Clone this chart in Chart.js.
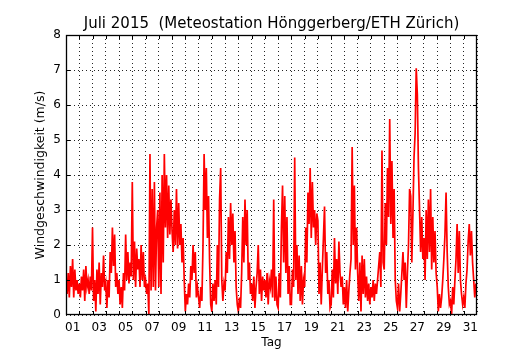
<!DOCTYPE html>
<html>
<head>
<meta charset="utf-8">
<script src="https://cdn.jsdelivr.net/npm/chart.js@4"></script>
<style>
  body { margin: 0; background: #fff; }
  canvas { display: block; }
</style>
</head>
<body>
<canvas id="windChart" width="530" height="350"></canvas>
<script>
// Windgeschwindigkeit Juli 2015, 2-stuendliche Werte (12 pro Tag)
var samplesPerDay = 12;
var dayLabels = ['01','02','03','04','05','06','07','08','09','10','11','12','13','14','15','16',
                 '17','18','19','20','21','22','23','24','25','26','27','28','29','30','31'];
var windSpeed = [
    1.1, 0.6, 1.2, 0.5, 1.4, 0.8, 1.6, 0.5, 1.3, 0.7, 1.0, 0.6,   // 01
    0.9, 0.5, 1.1, 0.7, 1.3, 0.4, 1.4, 0.8, 1.0, 0.6, 1.1, 0.7,   // 02
    2.5, 0.4, 1.0, 0.1, 1.3, 0.6, 1.5, 0.3, 1.2, 0.8, 1.7, 0.7,   // 03
    0.9, 0.2, 1.0, 0.5, 1.8, 1.2, 2.5, 1.4, 2.3, 0.8, 1.2, 0.6,   // 04
    1.0, 0.3, 0.8, 0.2, 1.2, 0.7, 2.3, 1.0, 1.8, 0.9, 1.5, 1.1,   // 05
    3.8, 1.0, 2.1, 0.8, 1.9, 1.3, 1.6, 0.8, 2.0, 1.0, 1.8, 0.8,   // 06
    1.0, 0.6, 0.9, 0.0, 4.6, 0.7, 3.6, 0.8, 3.8, 0.7, 2.5, 3.0,   // 07
    0.8, 3.5, 0.6, 4.0, 1.5, 4.6, 2.5, 4.0, 2.2, 3.7, 2.3, 3.3,   // 08
    2.4, 1.8, 3.0, 2.0, 3.6, 1.9, 3.2, 2.0, 2.6, 1.5, 2.2, 1.0,   // 09
    0.1, 0.6, 0.3, 0.9, 0.5, 1.4, 1.0, 2.0, 1.2, 1.8, 0.5, 0.8,   // 10
    0.5, 0.2, 0.8, 0.4, 2.0, 4.6, 3.0, 4.2, 2.2, 3.4, 1.5, 0.3,   // 11
    0.1, 0.9, 0.4, 1.0, 0.3, 2.0, 0.8, 3.3, 4.2, 1.0, 0.4, 0.9,   // 12
    0.7, 1.8, 1.2, 2.8, 1.6, 3.2, 2.0, 2.9, 1.5, 2.4, 0.8, 0.3,   // 13
    0.1, 0.5, 0.2, 1.2, 2.8, 1.5, 3.3, 2.0, 3.0, 1.0, 1.5, 0.6,   // 14
    0.9, 0.4, 1.1, 0.2, 0.8, 1.2, 2.0, 0.6, 1.3, 0.4, 1.1, 0.7,   // 15
    1.0, 0.5, 1.2, 0.3, 1.0, 0.8, 1.3, 0.5, 3.3, 0.4, 1.1, 0.3,   // 16
    0.2, 1.2, 0.5, 2.5, 3.7, 1.5, 3.4, 1.2, 2.8, 0.6, 1.4, 0.3,   // 17
    0.3, 1.3, 0.8, 4.5, 1.0, 2.0, 0.6, 1.7, 0.4, 1.4, 0.3, 1.0,   // 18
    0.8, 2.5, 1.5, 3.5, 2.6, 4.2, 2.2, 3.8, 2.5, 3.0, 2.0, 2.9,   // 19
    2.7, 0.6, 1.5, 0.3, 1.3, 2.2, 3.1, 1.2, 1.8, 0.6, 1.0, 0.2,   // 20
    0.3, 1.3, 0.5, 2.2, 0.9, 1.6, 0.6, 2.1, 1.2, 0.8, 1.1, 0.3,   // 21
    0.8, 0.2, 1.0, 0.1, 0.7, 1.2, 1.6, 4.8, 2.0, 3.7, 1.3, 2.5,   // 22
    1.2, 0.4, 1.5, 0.1, 1.7, 0.6, 1.6, 0.5, 1.1, 0.4, 0.9, 0.3,   // 23
    0.8, 0.5, 1.0, 0.4, 0.9, 0.6, 1.0, 1.4, 1.8, 0.8, 4.7, 1.5,   // 24
    1.3, 3.2, 2.0, 4.2, 2.8, 5.6, 2.6, 4.4, 2.2, 3.6, 1.0, 0.4,   // 25
    0.2, 0.9, 0.1, 0.6, 1.2, 1.8, 1.0, 1.5, 0.2, 1.2, 2.0, 3.6,   // 26
    3.4, 1.5, 2.9, 4.5, 5.2, 7.05, 6.3, 4.2, 3.0, 1.8, 2.8, 1.6,  // 27
    2.2, 1.0, 3.0, 1.6, 3.3, 1.8, 3.6, 1.3, 2.8, 1.5, 2.4, 1.2,   // 28
    0.8, 0.1, 0.6, 0.2, 0.5, 1.0, 1.6, 2.3, 3.5, 1.8, 0.8, 0.3,   // 29
    0.4, 0.0, 0.8, 0.3, 1.0, 1.6, 2.6, 1.2, 2.4, 1.0, 0.6, 0.3,   // 30
    0.5, 0.2, 0.9, 1.3, 2.1, 2.6, 1.7, 2.4, 1.5, 1.0, 0.5, 0.9    // 31
];

var points = windSpeed.map(function (v, i) {
    return { x: i / samplesPerDay, y: v };
});

var font = { family: 'DejaVu Sans', size: 12 };

// Rahmen und kleine Ticks nach innen
var framePlugin = {
    id: 'frame',
    afterDraw: function (chart) {
        var c = chart.ctx, a = chart.chartArea;
        var xs = chart.scales.x, ys = chart.scales.y;
        c.save();
        c.strokeStyle = '#000';
        c.lineWidth = 1;
        c.beginPath();
        for (var d = 1; d < 31; d++) {
            var px = Math.round(xs.getPixelForValue(d)) + 0.5;
            c.moveTo(px, a.bottom); c.lineTo(px, a.bottom - 4);
            c.moveTo(px, a.top); c.lineTo(px, a.top + 4);
        }
        for (var v = 1; v < 8; v++) {
            var py = Math.round(ys.getPixelForValue(v)) + 0.5;
            c.moveTo(a.left, py); c.lineTo(a.left + 4, py);
            c.moveTo(a.right, py); c.lineTo(a.right - 4, py);
        }
        c.stroke();
        c.lineWidth = 1.3;
        c.strokeRect(a.left + 0.5, a.top + 0.5, a.right - a.left - 1, a.bottom - a.top - 1);
        c.restore();
    }
};

var ctx = document.getElementById('windChart').getContext('2d');
var windChart = new Chart(ctx, {
    type: 'line',
    data: {
        datasets: [{
            label: 'Windgeschwindigkeit',
            data: points,
            borderColor: '#ff0000',
            borderWidth: 1.7,
            pointRadius: 0,
            tension: 0
        }]
    },
    options: {
        responsive: false,
        animation: false,
        layout: { padding: { left: 0, right: 53, top: 0, bottom: 0 } },
        plugins: {
            legend: { display: false },
            tooltip: { enabled: false },
            title: {
                display: true,
                text: 'Juli 2015  (Meteostation Hönggerberg/ETH Zürich)',
                color: '#000',
                fullSize: false,
                font: { family: 'DejaVu Sans', size: 15, weight: 'normal' },
                padding: { top: 15, bottom: 2 }
            }
        },
        scales: {
            x: {
                type: 'linear',
                min: 0,
                max: 31,
                afterFit: function (s) { s.height = 35; },
                border: { display: false, dash: [1, 3] },
                grid: {
                    drawTicks: false,
                    lineWidth: 1,
                    color: function (c) {
                        return c.tick && Number.isInteger(c.tick.value) ? 'rgba(0,0,0,0.85)' : 'rgba(0,0,0,0)';
                    }
                },
                ticks: {
                    stepSize: 0.5,
                    autoSkip: false,
                    maxRotation: 0,
                    padding: 6,
                    color: '#000',
                    font: font,
                    callback: function (value) {
                        var h = Math.round(value * 2);
                        if (h % 2 === 1 && Math.floor(value) % 2 === 0) {
                            return dayLabels[Math.floor(value)];
                        }
                        return '';
                    }
                },
                title: {
                    display: true,
                    text: 'Tag',
                    color: '#000',
                    font: font,
                    padding: { top: 0, bottom: 0 }
                }
            },
            y: {
                min: 0,
                max: 8,
                afterFit: function (s) { s.width = 66; },
                border: { display: false, dash: [1, 3] },
                grid: {
                    drawTicks: false,
                    lineWidth: 1,
                    color: 'rgba(0,0,0,0.85)'
                },
                ticks: {
                    stepSize: 1,
                    padding: 5,
                    color: '#000',
                    font: font
                },
                title: {
                    display: true,
                    text: 'Windgeschwindigkeit (m/s)',
                    color: '#000',
                    font: { family: 'DejaVu Sans', size: 12.5 },
                    padding: { top: 33, bottom: 0 }
                }
            }
        }
    },
    plugins: [framePlugin]
});
</script>
</body>
</html>
